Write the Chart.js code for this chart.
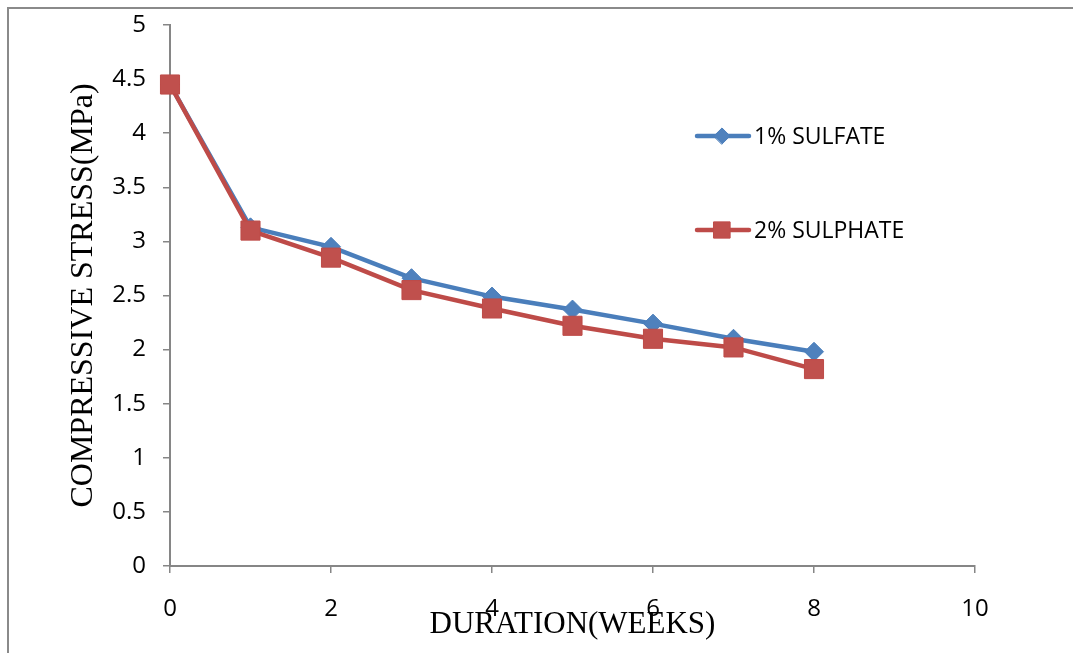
<!DOCTYPE html>
<html>
<head>
<meta charset="utf-8">
<script src="https://cdn.jsdelivr.net/npm/chart.js@4.4.1/dist/chart.umd.min.js"></script>
<style>
  html, body { margin: 0; padding: 0; background: #ffffff; }
  #wrap { position: relative; width: 1073px; height: 653px; }
</style>
</head>
<body>
<div id="wrap"><canvas id="c"></canvas></div>
<script>
const weeks = [0, 1, 2, 3, 4, 5, 6, 7, 8];
const sulfate1 = [4.45, 3.13, 2.95, 2.66, 2.49, 2.37, 2.24, 2.10, 1.98];
const sulphate2 = [4.45, 3.10, 2.85, 2.55, 2.38, 2.22, 2.10, 2.02, 1.82];
const seriesNames = ['1% SULFATE', '2% SULPHATE'];
const xTickValues = [0, 2, 4, 6, 8, 10];
const yTickValues = [0, 0.5, 1, 1.5, 2, 2.5, 3, 3.5, 4, 4.5, 5];
const xTitle = 'DURATION(WEEKS)';
const yTitle = 'COMPRESSIVE STRESS(MPa)';

const BLUE_LINE = '#4a7ebb', BLUE_FILL = '#4f81bd';
const RED_LINE = '#be4b48', RED_FILL = '#c0504d';
const AXIS = '#868686';
const TICK_FONT = { family: "'Open Sans', 'Liberation Sans', sans-serif", size: 24 };

const toXY = (vals) => weeks.map((w, i) => ({ x: w, y: vals[i] }));

const frame = {
  id: 'frame',
  beforeDraw(chart) {
    const ctx = chart.ctx;
    ctx.save();
    ctx.strokeStyle = '#8a8a8a';
    ctx.lineWidth = 2;
    ctx.strokeRect(8, 8, 1200, 800);
    ctx.restore();
  }
};

const legendMarks = {
  id: 'legendMarks',
  afterDraw(chart) {
    const ctx = chart.ctx;
    const rows = [
      { ds: chart.data.datasets[0], y: 136 },
      { ds: chart.data.datasets[1], y: 230 }
    ];
    ctx.save();
    rows.forEach(r => {
      ctx.strokeStyle = r.ds.borderColor;
      ctx.lineWidth = r.ds.borderWidth;
      ctx.lineCap = 'round';
      ctx.beginPath();
      ctx.moveTo(697, r.y);
      ctx.lineTo(749, r.y);
      ctx.stroke();
      ctx.fillStyle = r.ds.pointBackgroundColor;
      ctx.strokeStyle = r.ds.pointBorderColor;
      ctx.lineWidth = 1;
      Chart.helpers.drawPoint(ctx, {
        pointStyle: r.ds.pointStyle,
        radius: r.ds.pointRadius * 0.85,
        borderWidth: 1,
        rotation: 0
      }, 722, r.y);
      ctx.fillStyle = '#000000';
      ctx.font = "23px 'Open Sans', 'Liberation Sans', sans-serif";
      ctx.textBaseline = 'middle';
      ctx.textAlign = 'left';
      ctx.fillText(r.ds.label, 754, r.y + 1);
    });
    ctx.restore();
  }
};

new Chart(document.getElementById('c'), {
  type: 'line',
  data: {
    datasets: [
      {
        label: seriesNames[0],
        data: toXY(sulfate1),
        borderColor: BLUE_LINE,
        backgroundColor: BLUE_FILL,
        borderWidth: 4.5,
        pointStyle: 'rectRot',
        pointRadius: 9.5,
        pointBackgroundColor: BLUE_FILL,
        pointBorderColor: BLUE_LINE,
        pointBorderWidth: 1,
        tension: 0,
        clip: false,
        order: 1
      },
      {
        label: seriesNames[1],
        data: toXY(sulphate2),
        borderColor: RED_LINE,
        backgroundColor: RED_FILL,
        borderWidth: 4.5,
        pointStyle: 'rect',
        pointRadius: 13.5,
        pointBackgroundColor: RED_FILL,
        pointBorderColor: RED_LINE,
        pointBorderWidth: 1,
        tension: 0,
        clip: false,
        order: 0
      }
    ]
  },
  options: {
    responsive: true,
    maintainAspectRatio: false,
    animation: false,
    devicePixelRatio: 1,
    layout: { padding: { left: 0, top: 25, right: 98, bottom: 0 } },
    plugins: {
      legend: { display: false },
      tooltip: { enabled: false },
      title: { display: false }
    },
    scales: {
      x: {
        type: 'linear',
        min: 0,
        max: 10,
        afterBuildTicks: (s) => { s.ticks = xTickValues.map(v => ({ value: v })); },
        afterFit: (s) => { s.height = 87; s.paddingLeft = 0; s.paddingRight = 0; },
        grid: { display: true, drawOnChartArea: false, drawTicks: true, tickLength: 7, color: AXIS, lineWidth: 1.5 },
        border: { display: true, color: AXIS, width: 2 },
        ticks: { color: '#000000', font: TICK_FONT, padding: 22, maxRotation: 0, autoSkip: false, callback: (v) => String(v) },
        title: {
          display: true,
          text: xTitle,
          color: '#000000',
          font: { family: "'Liberation Serif', 'Times New Roman', serif", size: 31 },
          padding: { top: 0, bottom: 10 }
        }
      },
      y: {
        type: 'linear',
        min: 0,
        max: 5,
        afterBuildTicks: (s) => { s.ticks = yTickValues.map(v => ({ value: v })); },
        afterFit: (s) => { s.width = 170; s.paddingTop = 0; s.paddingBottom = 0; },
        grid: { display: true, drawOnChartArea: false, drawTicks: true, tickLength: 7, color: AXIS, lineWidth: 1.5 },
        border: { display: true, color: AXIS, width: 2 },
        ticks: { color: '#000000', font: TICK_FONT, padding: 17, autoSkip: false, callback: (v) => String(v) },
        title: {
          display: true,
          text: yTitle,
          color: '#000000',
          font: { family: "'Liberation Serif', 'Times New Roman', serif", size: 32 },
          padding: { top: 64, bottom: 0 }
        }
      }
    }
  },
  plugins: [frame, legendMarks]
});
</script>
</body>
</html>
